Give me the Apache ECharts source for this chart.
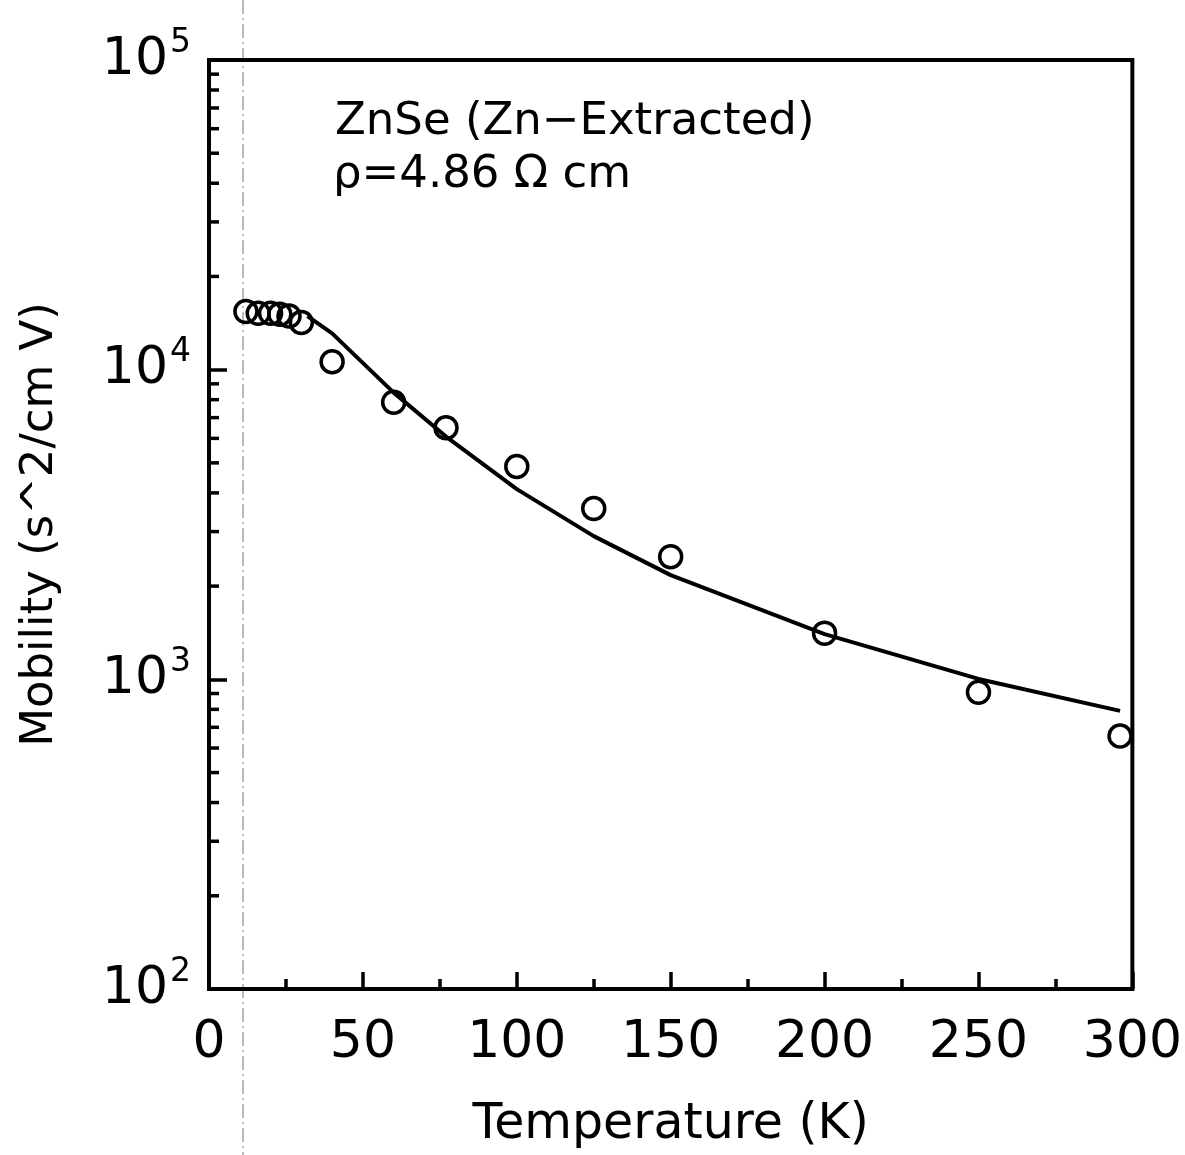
<!DOCTYPE html>
<html><head><meta charset="utf-8">
<script src="https://cdn.jsdelivr.net/npm/echarts@6/dist/echarts.min.js"></script>
<style>html,body{margin:0;padding:0;background:#fff}#c{width:1185px;height:1155px}</style>
</head><body><div id="c"></div>
<script>
const measuredT = [12, 16, 20, 23, 26, 30, 40, 60, 77, 100, 125, 150, 200, 250, 296];
const measuredMobility = [15400, 15200, 15200, 15100, 14900, 14200, 10600, 7850, 6490, 4870, 3560, 2490, 1410, 908, 656];
const fitT = [32, 40, 60, 77, 100, 125, 150, 200, 250, 296];
const fitMobility = [14900, 13100, 8430, 6080, 4115, 2900, 2170, 1400, 1003, 791];
const xTicks = [0, 50, 100, 150, 200, 250, 300];
const yMinorTicks = [];
[100, 1000, 10000].forEach(d => { for (let k = 2; k <= 9; k++) yMinorTicks.push(k * d); });
const annotation1 = 'ZnSe (Zn\u2212Extracted)';
const annotation2 = '\u03c1=4.86 \u03a9 cm';
const xTitle = 'Temperature (K)';
const yTitle = 'Mobility (s^2/cm V)';

const FONT = 'DejaVu Sans';
const chart = echarts.init(document.getElementById('c'), null, {renderer: 'canvas'});
chart.setOption({
  animation: false,
  backgroundColor: '#fff',
  grid: {left: 209, right: 52, top: 60, bottom: 163, show: true, borderColor: '#000', borderWidth: 4, backgroundColor: 'transparent'},
  xAxis: {
    type: 'value', min: xTicks[0], max: xTicks[xTicks.length - 1], interval: 50,
    axisLine: {show: true, lineStyle: {color: '#000', width: 4}},
    axisTick: {show: true, inside: true, length: 17, lineStyle: {color: '#000', width: 3.5}},
    minorTick: {show: true, splitNumber: 2, length: 10, lineStyle: {color: '#000', width: 3.5}},
    splitLine: {show: false},
    axisLabel: {fontFamily: FONT, fontSize: 52, color: '#000', margin: 28},
    name: xTitle, nameLocation: 'middle', nameGap: 112,
    nameTextStyle: {fontFamily: FONT, fontSize: 49, color: '#000'}
  },
  yAxis: {
    type: 'log', logBase: 10, min: 100, max: 100000,
    axisLine: {show: true, lineStyle: {color: '#000', width: 4}},
    axisTick: {show: true, inside: true, length: 18, lineStyle: {color: '#000', width: 3.5}},
    splitLine: {show: false},
    axisLabel: {
      margin: 18, color: '#000',
      formatter: v => '{b|10}{s|' + Math.round(Math.log10(v)) + '}',
      rich: {
        b: {fontFamily: FONT, fontSize: 52, color: '#000'},
        s: {fontFamily: FONT, fontSize: 33, color: '#000', padding: [0, 0, 34, 2]}
      }
    },
    name: yTitle, nameLocation: 'middle', nameGap: 146, nameRotate: 90,
    nameTextStyle: {fontFamily: FONT, fontSize: 45, color: '#000'}
  },
  graphic: [
    {type: 'text', left: 335, top: 100, style: {text: annotation1, font: '45px "DejaVu Sans"', fill: '#000'}},
    {type: 'text', left: 333, top: 153, style: {text: annotation2, font: '45px "DejaVu Sans"', fill: '#000'}},
    {type: 'line', shape: {x1: 243, y1: 0, x2: 243, y2: 1155}, style: {stroke: '#777', lineWidth: 1, lineDash: [14, 4, 2, 4]}, z: -1}
  ],
  series: [
    {
      type: 'line', data: fitT.map((t, i) => [t, fitMobility[i]]),
      showSymbol: false, symbol: 'none', smooth: false,
      lineStyle: {color: '#000', width: 4, opacity: 1}, z: 2
    },
    {
      type: 'scatter', data: measuredT.map((t, i) => [t, measuredMobility[i]]),
      symbol: 'circle', symbolSize: 22,
      itemStyle: {color: 'rgba(0,0,0,0)', borderColor: '#000', borderWidth: 3.5, opacity: 1}, z: 3
    },
    {
      type: 'custom', data: yMinorTicks.map(v => [xTicks[0], v]), silent: true, clip: false,
      renderItem: (params, api) => {
        const p = api.coord([api.value(0), api.value(1)]);
        return {type: 'line', shape: {x1: p[0], y1: p[1], x2: p[0] + 10, y2: p[1]}, style: {stroke: '#000', lineWidth: 3.5}};
      }
    }
  ]
});
</script></body></html>
